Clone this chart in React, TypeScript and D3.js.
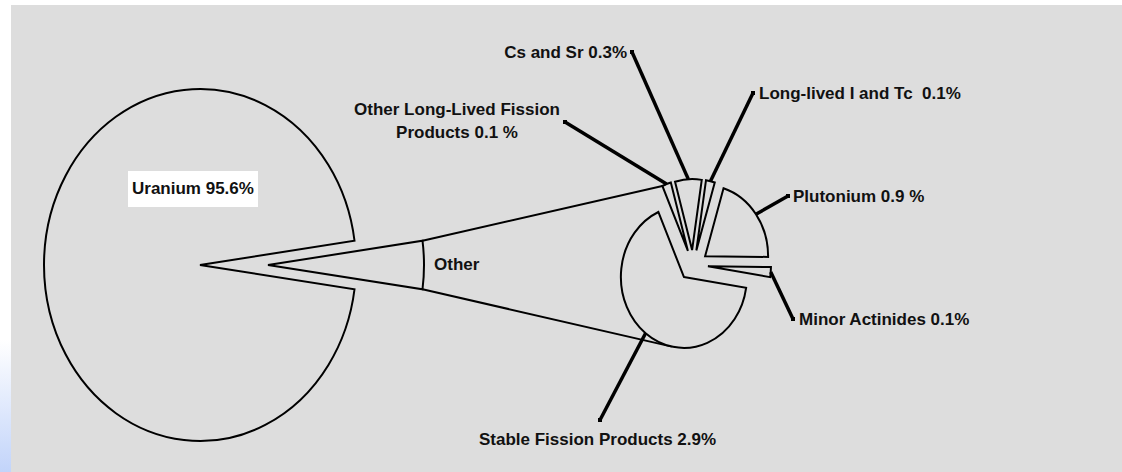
import React from 'react';
import * as d3 from 'd3';

// primary pie
const primaryNames = ['Uranium 95.6%', 'Other'];
const primaryValues = [95.6, 4.4];

// secondary pie (breakdown of "Other"), clockwise from the top-right
const secondaryNames = [
  'Plutonium',
  'Minor Actinides',
  'Stable Fission Products',
  'Other Long-Lived Fission Products',
  'Cs and Sr',
  'Long-lived I and Tc',
];
const secondaryValues = [0.9, 0.1, 2.9, 0.1, 0.3, 0.1];
const secondaryLabels = [
  ['Plutonium 0.9 %'],
  ['Minor Actinides 0.1%'],
  ['Stable Fission Products 2.9%'],
  ['Other Long-Lived Fission', 'Products 0.1 %'],
  ['Cs and Sr 0.3%'],
  ['Long-lived I and Tc  0.1%'],
];

// label placement (where the leader line meets the label)
const labelLayout: Record<string, { x: number; y: number; tx: number; ty: number; anchor: string }> = {
  'Plutonium': { x: 788, y: 196, tx: 793, ty: 202, anchor: 'start' },
  'Minor Actinides': { x: 793, y: 319, tx: 799, ty: 325, anchor: 'start' },
  'Stable Fission Products': { x: 600, y: 420, tx: 479, ty: 445, anchor: 'start' },
  'Other Long-Lived Fission Products': { x: 565, y: 122, tx: 457, ty: 115, anchor: 'middle' },
  'Cs and Sr': { x: 632, y: 52, tx: 627, ty: 58, anchor: 'end' },
  'Long-lived I and Tc': { x: 753, y: 93, tx: 759, ty: 99, anchor: 'start' },
};

const W = 1122;
const H = 472;
const BG = '#dddddd';
const FONT = '"Liberation Sans", Arial, sans-serif';

const big = { cx: 200, cy: 265, rx: 156, ry: 176, explode: 68 };
const small = { cx: 693, cy: 265, rx: 63, ry: 71, explode: 15 };
const bottomConnectorAngle = (191 / 180) * Math.PI;

const pt = (cx: number, cy: number, rx: number, ry: number, a: number): [number, number] =>
  [cx + rx * Math.sin(a), cy - ry * Math.cos(a)];

// pie slice on an ellipse (chart is squeezed horizontally)
function slicePath(cx: number, cy: number, rx: number, ry: number, a0: number, a1: number) {
  const [x0, y0] = pt(cx, cy, rx, ry, a0);
  const [x1, y1] = pt(cx, cy, rx, ry, a1);
  const large = a1 - a0 > Math.PI ? 1 : 0;
  return `M${cx},${cy}L${x0},${y0}A${rx},${ry} 0 ${large} 1 ${x1},${y1}Z`;
}

const App = () => {
  const otherAngle = (primaryValues[1] / d3.sum(primaryValues)) * 2 * Math.PI;
  const start = Math.PI / 2 - otherAngle / 2;
  const primaryArcs = d3.pie<number>().sort(null)
    .startAngle(start - 2 * Math.PI + otherAngle)
    .endAngle(start + otherAngle)(primaryValues);
  // Uranium first so it wraps around; Other sits centred on the east side
  const uranium = primaryArcs[0];
  const other = primaryArcs[1];

  const otherCx = big.cx + big.explode;
  const otherTop = pt(otherCx, big.cy, big.rx, big.ry, other.startAngle);
  const otherBottom = pt(otherCx, big.cy, big.rx, big.ry, other.endAngle);

  const s0 = (17 / 180) * Math.PI;
  const secondaryArcs = d3.pie<number>().sort(null)
    .startAngle(s0).endAngle(s0 + 2 * Math.PI)(secondaryValues);

  const slices = secondaryArcs.map((a, i) => {
    const mid = (a.startAngle + a.endAngle) / 2;
    const cx = small.cx + small.explode * Math.sin(mid);
    const cy = small.cy - small.explode * Math.cos(mid);
    return {
      name: secondaryNames[i],
      lines: secondaryLabels[i],
      a,
      cx,
      cy,
      d: slicePath(cx, cy, small.rx, small.ry, a.startAngle, a.endAngle),
      edge: pt(cx, cy, small.rx, small.ry, mid),
    };
  });

  const topTarget = (() => {
    const s = slices[3];
    return pt(s.cx, s.cy, small.rx, small.ry, s.a.startAngle);
  })();
  const bottomTarget = (() => {
    const s = slices[2];
    return pt(s.cx, s.cy, small.rx, small.ry, bottomConnectorAngle);
  })();

  return (
    <svg width={W} height={H} style={{ position: 'absolute', left: 0, top: 0 }} fontFamily={FONT}>
      <defs>
        <linearGradient id="strip" x1="0" y1="0" x2="0" y2="1">
          <stop offset="0" stopColor="#ffffff" />
          <stop offset="0.72" stopColor="#ffffff" />
          <stop offset="1" stopColor="#c2d4fa" />
        </linearGradient>
      </defs>
      <rect x={0} y={0} width={W} height={H} fill="#ffffff" />
      <rect x={0} y={0} width={11} height={H} fill="url(#strip)" />
      <rect x={11} y={5} width={W - 11} height={H - 5} fill={BG} />

      {/* primary pie */}
      <path
        d={slicePath(big.cx, big.cy, big.rx, big.ry, uranium.startAngle, uranium.endAngle)}
        fill={BG} stroke="#000" strokeWidth={2} strokeLinejoin="miter"
      />
      <path
        d={slicePath(otherCx, big.cy, big.rx, big.ry, other.startAngle, other.endAngle)}
        fill={BG} stroke="#000" strokeWidth={2}
      />
      <line x1={otherTop[0]} y1={otherTop[1]} x2={topTarget[0]} y2={topTarget[1]} stroke="#000" strokeWidth={2} />
      <line x1={otherBottom[0]} y1={otherBottom[1]} x2={bottomTarget[0]} y2={bottomTarget[1]} stroke="#000" strokeWidth={2} />

      {/* secondary pie */}
      {slices.map(s => (
        <path key={s.name} d={s.d} fill={BG} stroke="#000" strokeWidth={2} />
      ))}

      {/* leader lines + labels */}
      {slices.map(s => {
        const L = labelLayout[s.name];
        return (
          <g key={s.name + '-label'}>
            <line x1={L.x} y1={L.y} x2={s.edge[0]} y2={s.edge[1]} stroke="#000" strokeWidth={3.5} />
            <rect x={L.x - 2} y={L.y - 2} width={4} height={4} fill="#000" />
            <text
              x={L.tx} y={L.ty} textAnchor={L.anchor} fontSize={17} fontWeight="bold"
              fill="#111" style={{ whiteSpace: 'pre' }}
            >
              {s.lines.map((t, j) => (
                <tspan key={j} x={L.tx} dy={j === 0 ? 0 : 23}>{t}</tspan>
              ))}
            </text>
          </g>
        );
      })}

      {/* Uranium label with white box */}
      <rect x={128} y={171} width={130} height={36} fill="#ffffff" />
      <text x={132} y={194} fontSize={17} fontWeight="bold" fill="#111">{primaryNames[0]}</text>
      <text x={434} y={270} fontSize={17} fontWeight="bold" fill="#111">{primaryNames[1]}</text>
    </svg>
  );
};

export default App;
